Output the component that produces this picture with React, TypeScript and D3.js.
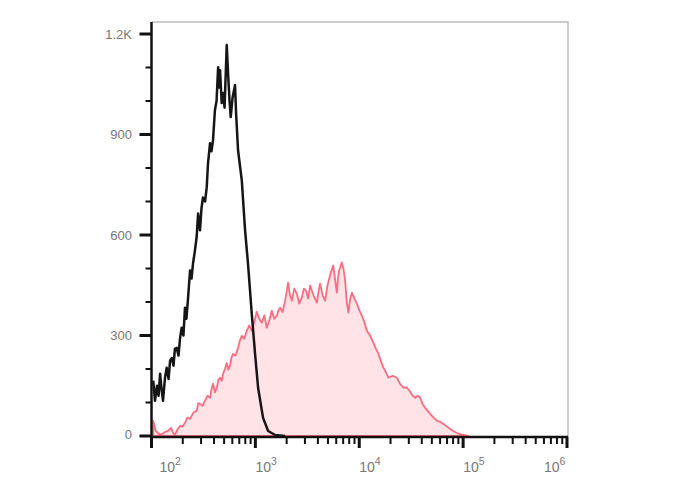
import React from 'react';
import * as d3 from 'd3';

// Unstained control histogram (black line): [fluorescence intensity, count]
const controlHist: [number, number][] = [
  [104, 165], [108, 105], [113, 150], [117, 120], [121, 186], [125, 140], [129, 105], [135, 175],
  [140, 204], [146, 170], [151, 225], [157, 233], [163, 210], [168, 260], [175, 263], [182, 240],
  [188, 290], [195, 323], [203, 300], [210, 383], [217, 350], [225, 413], [235, 494], [243, 470],
  [251, 515], [262, 554], [272, 594], [281, 664], [293, 614], [303, 680], [313, 712], [328, 700],
  [340, 742], [350, 814], [366, 874], [378, 850], [391, 883], [408, 973], [423, 1000], [438, 1101],
  [447, 1040], [457, 1092], [474, 994], [489, 1024], [505, 980], [530, 1167], [546, 1083], [564, 1000],
  [579, 952], [603, 1010], [637, 1048], [652, 964], [681, 853], [740, 763], [796, 614], [849, 515],
  [923, 365], [993, 245], [1062, 144], [1186, 54], [1327, 15], [1549, 3], [1932, 0],
];

// Stained sample histogram (red filled): [fluorescence intensity, count]
const stainedHist: [number, number][] = [
  [104, 45], [110, 15], [121, 3], [135, 12], [144, 15], [154, 24], [161, 10], [168, 3],
  [178, 20], [188, 30], [199, 28], [210, 39], [222, 55], [235, 51], [253, 70], [272, 75],
  [282, 98], [293, 96], [310, 90], [327, 105], [346, 120], [366, 114], [378, 140], [391, 156],
  [408, 130], [425, 144], [441, 168], [457, 174], [473, 165], [489, 186], [509, 200], [530, 218],
  [549, 198], [570, 210], [590, 235], [610, 245], [645, 240], [681, 263], [710, 285], [740, 299],
  [782, 290], [826, 314], [873, 330], [923, 314], [975, 340], [1031, 371], [1090, 350], [1153, 338],
  [1219, 360], [1288, 323], [1361, 345], [1439, 374], [1520, 350], [1607, 359], [1667, 375], [1730, 383],
  [1830, 370], [1932, 404], [2000, 430], [2065, 458], [2150, 420], [2244, 404], [2370, 440], [2506, 425],
  [2650, 395], [2799, 413], [2930, 440], [3076, 434], [3220, 410], [3365, 449], [3620, 420], [3908, 398],
  [4050, 430], [4198, 455], [4440, 420], [4690, 404], [4950, 450], [5236, 479], [5420, 495], [5610, 509],
  [5840, 470], [6081, 428], [6240, 470], [6397, 494], [6592, 505], [6792, 518], [7050, 500], [7311, 464],
  [7580, 400], [7870, 368], [8180, 410], [8492, 428], [8970, 410], [9484, 395], [10020, 375], [10593, 359],
  [11200, 340], [11834, 314], [12700, 300], [13709, 278], [14500, 260], [15311, 245], [16200, 222], [17100, 204],
  [18100, 190], [19099, 174], [21000, 180], [23014, 174], [24800, 155], [26669, 144], [28700, 145], [30903, 132],
  [32700, 120], [34594, 114], [36600, 120], [38637, 114], [40800, 95], [43152, 84], [45600, 75], [48195, 66],
  [52000, 55], [55976, 45], [60200, 42], [64714, 36], [70000, 28], [75162, 21], [81000, 14], [87096, 9],
  [94000, 5], [100925, 3], [111944, 0],
];

const xDecades = [100, 1000, 10000, 100000, 1000000];
const xExponents = ['2', '3', '4', '5', '6'];
const yMajor = [0, 300, 600, 900, 1200];
const yLabels = ['0', '300', '600', '900', '1.2K'];

export default function App() {
  const svgRef = React.useRef<SVGSVGElement | null>(null);

  React.useEffect(() => {
    const svg = d3.select(svgRef.current);
    if (!svgRef.current) return;
    svg.selectAll('*').remove();

    const left = 151.5, right = 567, top = 22, bottom = 437;
    const font = 'Arial, "Liberation Sans", sans-serif';

    const x = d3.scaleLog().domain([100, 1e6]).range([left, right]);
    const y = d3.scaleLinear().domain([0, 1200]).range([436, 34]);

    // frame (top/right)
    svg.append('path')
      .attr('d', `M${left},${top}H${right + 1}V${bottom}`)
      .attr('fill', 'none')
      .attr('stroke', '#bdbdbd')
      .attr('stroke-width', 1.5);

    // stained area
    const area = d3.area<[number, number]>()
      .x(d => x(d[0]))
      .y0(y(0))
      .y1(d => y(d[1]));
    svg.append('path')
      .datum(stainedHist)
      .attr('d', area)
      .attr('fill', '#ffe3e6')
      .attr('stroke', '#ff6b80')
      .attr('stroke-width', 1.8)
      .attr('stroke-linejoin', 'round');

    // control line
    const line = d3.line<[number, number]>()
      .x(d => x(d[0]))
      .y(d => y(d[1]));
    svg.append('path')
      .datum(controlHist)
      .attr('d', line)
      .attr('fill', 'none')
      .attr('stroke', '#151515')
      .attr('stroke-width', 2.5)
      .attr('stroke-linejoin', 'round');

    // axes lines
    svg.append('line')
      .attr('x1', left).attr('x2', left).attr('y1', top).attr('y2', bottom + 1)
      .attr('stroke', '#111').attr('stroke-width', 2.5);
    svg.append('line')
      .attr('x1', left - 1).attr('x2', right + 1).attr('y1', bottom).attr('y2', bottom)
      .attr('stroke', '#111').attr('stroke-width', 2.5);

    // x ticks
    const minor: number[] = [];
    for (let d = 100; d < 1e6; d *= 10) for (let k = 2; k <= 9; k++) minor.push(d * k);
    svg.append('g').selectAll('line').data(minor).join('line')
      .attr('x1', d => x(d)).attr('x2', d => x(d))
      .attr('y1', bottom).attr('y2', bottom + 7)
      .attr('stroke', '#111').attr('stroke-width', 2);
    svg.append('g').selectAll('line').data(xDecades).join('line')
      .attr('x1', d => x(d)).attr('x2', d => x(d))
      .attr('y1', bottom).attr('y2', bottom + 11)
      .attr('stroke', '#111').attr('stroke-width', 3);

    // x labels
    const xl = svg.append('g').attr('font-family', font).attr('fill', '#777');
    xDecades.forEach((d, i) => {
      const cx = Math.min(Math.max(x(d) + 12, left + 20), right - 11);
      const t = xl.append('text')
        .attr('x', cx - 12)
        .attr('y', 472)
        .attr('font-size', 14);
      t.append('tspan').text('10');
      t.append('tspan').attr('font-size', 10.5).attr('dy', -7).text(xExponents[i]);
    });

    // y ticks
    const yMinor = d3.range(0, 1201, 100).filter(v => v % 300 !== 0);
    svg.append('g').selectAll('line').data(yMinor).join('line')
      .attr('x1', left - 6).attr('x2', left)
      .attr('y1', d => y(d)).attr('y2', d => y(d))
      .attr('stroke', '#111').attr('stroke-width', 2);
    svg.append('g').selectAll('line').data(yMajor).join('line')
      .attr('x1', left - 12).attr('x2', left)
      .attr('y1', d => y(d)).attr('y2', d => y(d))
      .attr('stroke', '#111').attr('stroke-width', 3);
    svg.append('g').selectAll('text').data(yMajor).join('text')
      .attr('x', 132)
      .attr('y', d => y(d) - (d === 0 ? 2 : 0))
      .attr('dy', '0.35em')
      .attr('text-anchor', 'end')
      .attr('font-family', font)
      .attr('font-size', 13)
      .attr('fill', '#777')
      .text((d, i) => yLabels[i]);
  }, []);

  return (
    <svg ref={svgRef} width={688} height={490}
      style={{ position: 'absolute', left: 0, top: 0, background: '#fff' }} />
  );
}
